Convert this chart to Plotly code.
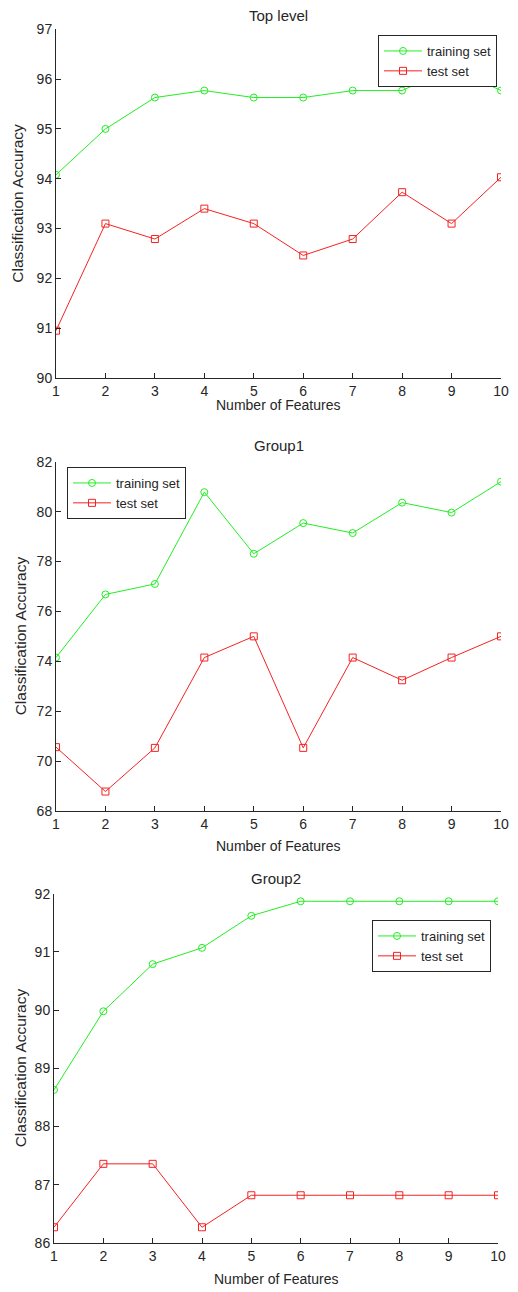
import plotly.graph_objects as go

W, H = 518, 1292
OFF = 8  # page body margin of the browser
FW, FH = W - OFF, H - OFF

features = [1, 2, 3, 4, 5, 6, 7, 8, 9, 10]

top_train = [94.08, 95.00, 95.63, 95.77, 95.63, 95.63, 95.77, 95.77, 96.23, 95.77]
top_test = [90.95, 93.10, 92.79, 93.40, 93.10, 92.46, 92.79, 93.73, 93.10, 94.03]

g1_train = [74.15, 76.68, 77.10, 80.78, 78.31, 79.54, 79.14, 80.36, 79.96, 81.20]
g1_test = [70.56, 68.78, 70.53, 74.15, 75.00, 70.53, 74.15, 73.24, 74.15, 75.00]

g2_train = [88.63, 89.98, 90.79, 91.07, 91.62, 91.87, 91.87, 91.87, 91.87, 91.87]
g2_test = [86.27, 87.36, 87.36, 86.27, 86.82, 86.82, 86.82, 86.82, 86.82, 86.82]

titles = ["Top level", "Group1", "Group2"]
yranges = [[90, 97], [68, 82], [86, 92]]
ytickvals = [list(range(90, 98)), list(range(68, 83, 2)), list(range(86, 93))]
xtick_labels = [str(v) for v in features]
series_names = ["training set", "test set"]

GREEN = "#22ee22"
RED = "#f52222"
FONT = "Liberation Sans, Arial, Helvetica, sans-serif"
TXT = "#262626"

# panel pixel boxes in the page: (x0, x1, ytop, ybottom)
panels = [(56, 501, 29.3, 378), (56, 501, 461.7, 811), (54, 498, 893.7, 1243)]
legend_pos = [(378, 35), (67, 467), (372, 920)]
title_y = [15, 445, 878]
xlab_y = [405, 846, 1279]
ylab_x = [18, 20, 20]

def px_x(v):
    return (v - OFF) / FW

def px_y(v):
    return 1 - (v - OFF) / FH

fig = go.Figure()
data = [(top_train, top_test), (g1_train, g1_test), (g2_train, g2_test)]
annotations = []
for i, (tr, te) in enumerate(data):
    n = "" if i == 0 else str(i + 1)
    leg = "legend" if i == 0 else f"legend{i + 1}"
    fig.add_trace(go.Scatter(
        x=features, y=tr, mode="lines+markers", name=series_names[0],
        xaxis="x" + n, yaxis="y" + n, legend=leg, cliponaxis=True,
        line=dict(color=GREEN, width=1),
        marker=dict(symbol="circle-open", size=7, color=GREEN, line=dict(width=1)),
    ))
    fig.add_trace(go.Scatter(
        x=features, y=te, mode="lines+markers", name=series_names[1],
        xaxis="x" + n, yaxis="y" + n, legend=leg, cliponaxis=True,
        line=dict(color=RED, width=1),
        marker=dict(symbol="square-open", size=7, color=RED, line=dict(width=1)),
    ))
    x0, x1, yt, yb = panels[i]
    axcommon = dict(showline=True, linecolor="#262626", linewidth=1, ticks="inside",
                    ticklen=5, tickcolor="#262626", showgrid=False, zeroline=False,
                    automargin=False,
                    tickfont=dict(family=FONT, size=14, color=TXT), fixedrange=True)
    fig.update_layout(**{
        "xaxis" + n: dict(domain=[px_x(x0), px_x(x1)], anchor="y" + n, range=[1, 10],
                          tickvals=features, ticktext=xtick_labels, **axcommon),
        "yaxis" + n: dict(domain=[px_y(yb), px_y(yt)], anchor="x" + n, range=yranges[i],
                          tickvals=ytickvals[i], **axcommon),
    })
    lx, ly = legend_pos[i]
    fig.update_layout(**{leg: dict(
        x=px_x(lx), y=px_y(ly), xanchor="left", yanchor="top",
        bgcolor="white", bordercolor="#262626", borderwidth=1, itemwidth=38,
        font=dict(family=FONT, size=13, color=TXT), tracegroupgap=0,
    )})
    annotations.append(dict(text=titles[i], x=px_x((x0 + x1) / 2), y=px_y(title_y[i]),
                            xref="paper", yref="paper", showarrow=False,
                            xanchor="center", yanchor="middle",
                            font=dict(family=FONT, size=15, color=TXT)))
    annotations.append(dict(text="Number of Features", x=px_x((x0 + x1) / 2), y=px_y(xlab_y[i]),
                            xref="paper", yref="paper", showarrow=False,
                            xanchor="center", yanchor="middle",
                            font=dict(family=FONT, size=14, color=TXT)))
    annotations.append(dict(text="Classification Accuracy", x=px_x(ylab_x[i]), y=px_y((yt + yb) / 2),
                            xref="paper", yref="paper", showarrow=False, textangle=-90,
                            xanchor="center", yanchor="middle",
                            font=dict(family=FONT, size=15.5, color=TXT)))

fig.update_layout(
    width=FW, height=FH, margin=dict(l=0, r=0, t=0, b=0, pad=0),
    paper_bgcolor="white", plot_bgcolor="white", template="none",
    annotations=annotations, showlegend=True,
)

fig.write_html("out.html")
